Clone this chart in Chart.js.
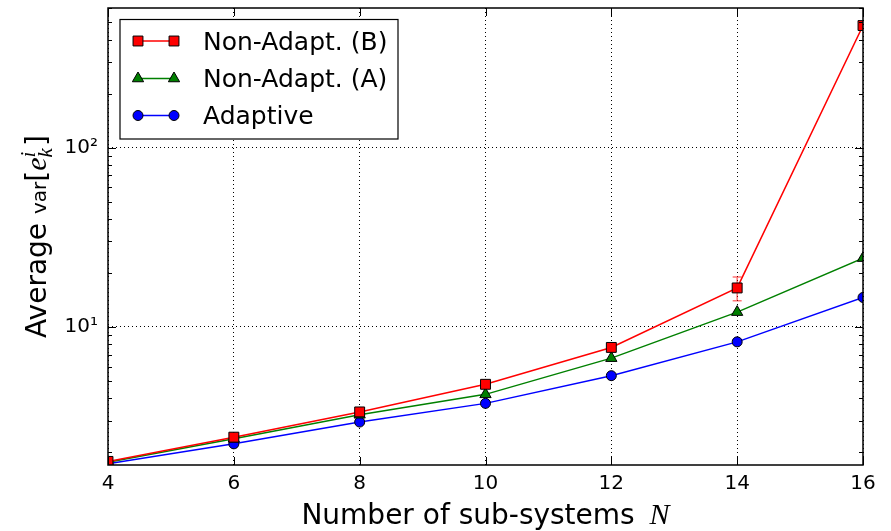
<!DOCTYPE html>
<html>
<head>
<meta charset="utf-8">
<script src="https://cdn.jsdelivr.net/npm/chart.js@4/dist/chart.umd.min.js"></script>
<style>
  html, body { margin: 0; padding: 0; background: #fff; }
  #wrap { width: 891px; height: 531px; }
</style>
</head>
<body>
<div id="wrap"><canvas id="chart" width="891" height="531"></canvas></div>
<script>
// values
const subsystems = [4, 6, 8, 10, 12, 14, 16]
const nonAdaptB = [1.78, 2.43, 3.36, 4.79, 7.69, 16.5, 479]
const nonAdaptBErr = [0, 0, 0, 0, 0, 2.5, 0]
const nonAdaptA = [1.76, 2.38, 3.24, 4.21, 6.70, 12.1, 24.2]
const adaptive = [1.73, 2.23, 2.95, 3.75, 5.35, 8.26, 14.6]
const xTicks = [4, 6, 8, 10, 12, 14, 16]
const yMajorTicks = [10, 100]
const seriesNames = ['Non-Adapt. (B)', 'Non-Adapt. (A)', 'Adaptive']

const sup = { '0': '⁰', '1': '¹', '2': '²', '3': '³' }

function pts(ys) {
  return subsystems.map((x, i) => ({ x: x, y: ys[i] }))
}

const styles = [
  { color: '#ff0000', pointStyle: 'rect', radius: 7 },
  { color: '#008000', pointStyle: 'triangle', radius: 6.5 },
  { color: '#0000ff', pointStyle: 'circle', radius: 5 },
]

const chartData = {
  datasets: [nonAdaptB, nonAdaptA, adaptive].map((ys, i) => ({
    label: seriesNames[i],
    data: pts(ys),
    borderColor: styles[i].color,
    backgroundColor: styles[i].color,
    borderWidth: 1.5,
    tension: 0,
    pointStyle: styles[i].pointStyle,
    pointRadius: styles[i].radius,
    pointBackgroundColor: styles[i].color,
    pointBorderColor: '#000',
    pointBorderWidth: 1,
  })),
}

// error bars, inner ticks, frame, legend and axis titles
const extras = {
  id: 'extras',
  beforeDatasetsDraw(chart) {
    const ctx = chart.ctx
    const xs = chart.scales.x, ys = chart.scales.y
    ctx.save()
    ctx.strokeStyle = 'rgba(255,0,0,0.55)'
    ctx.lineWidth = 1.5
    nonAdaptBErr.forEach((e, i) => {
      if (!e) return
      const px = xs.getPixelForValue(subsystems[i])
      const top = ys.getPixelForValue(nonAdaptB[i] + e)
      const bot = ys.getPixelForValue(nonAdaptB[i] - e)
      ctx.beginPath()
      ctx.moveTo(px, top); ctx.lineTo(px, bot)
      ctx.moveTo(px - 4.5, top); ctx.lineTo(px + 4.5, top)
      ctx.moveTo(px - 4.5, bot); ctx.lineTo(px + 4.5, bot)
      ctx.stroke()
    })
    ctx.restore()
  },
  afterDraw(chart) {
    const ctx = chart.ctx
    const a = chart.chartArea
    const xs = chart.scales.x, ys = chart.scales.y
    ctx.save()
    ctx.strokeStyle = '#000'
    ctx.lineWidth = 1

    // minor + major ticks on the y axis, both sides
    ctx.beginPath()
    for (let d = 1; d <= 100; d *= 10) {
      for (let m = 1; m <= 9; m++) {
        const v = m * d
        if (v < ys.min || v > ys.max) continue
        const py = Math.round(ys.getPixelForValue(v)) + 0.5
        const len = m === 1 ? 8 : 4
        ctx.moveTo(a.left, py); ctx.lineTo(a.left + len, py)
        ctx.moveTo(a.right, py); ctx.lineTo(a.right - len, py)
      }
    }
    xTicks.forEach(t => {
      const px = Math.round(xs.getPixelForValue(t)) + 0.5
      ctx.moveTo(px, a.bottom); ctx.lineTo(px, a.bottom - 8)
      ctx.moveTo(px, a.top); ctx.lineTo(px, a.top + 8)
    })
    ctx.stroke()

    // frame
    ctx.lineWidth = 1.5
    ctx.strokeRect(a.left, a.top, a.right - a.left, a.bottom - a.top)

    // legend
    const lx = 120, ly = 19.5, lw = 278, lh = 119.5
    ctx.fillStyle = '#fff'
    ctx.fillRect(lx, ly, lw, lh)
    ctx.lineWidth = 1.2
    ctx.strokeRect(lx, ly, lw, lh)
    const rows = [41, 78.5, 115.5]
    ctx.font = '25px "DejaVu Sans"'
    ctx.textBaseline = 'alphabetic'
    seriesNames.forEach((name, i) => {
      const y = rows[i]
      ctx.strokeStyle = styles[i].color
      ctx.lineWidth = 1.5
      ctx.beginPath(); ctx.moveTo(138, y); ctx.lineTo(174, y); ctx.stroke()
      ctx.fillStyle = styles[i].color
      ctx.strokeStyle = '#000'
      ctx.lineWidth = 1
      const opts = { pointStyle: styles[i].pointStyle, radius: styles[i].radius, rotation: 0, borderWidth: 1 }
      Chart.helpers.drawPoint(ctx, opts, 138, y)
      Chart.helpers.drawPoint(ctx, opts, 174, y)
      ctx.fillStyle = '#000'
      ctx.fillText(name, 203, y + 8.5)
    })

    // x title
    const big = '28px "DejaVu Sans"'
    const mathBig = 'italic 30px "Liberation Serif"'
    ctx.fillStyle = '#000'
    ctx.font = big
    const w1 = ctx.measureText('Number of sub-systems ').width
    ctx.font = mathBig
    const w2 = ctx.measureText('N').width
    let x0 = (a.left + a.right) / 2 - (w1 + 6 + w2) / 2
    ctx.font = big
    ctx.fillText('Number of sub-systems ', x0, 524)
    ctx.font = mathBig
    ctx.fillText('N', x0 + w1 + 6, 524)

    // y title, rotated
    const parts = [
      { t: 'Average ', f: big, dy: 0 },
      { t: 'var', f: '20px "DejaVu Sans"', dy: 0 },
      { t: '[', f: '28px "DejaVu Sans"', dy: 0 },
      { t: 'e', f: mathBig, dy: 0 },
      { t: 'k', f: 'italic 21px "Liberation Serif"', dy: 6, keep: true },
      { t: 'i', f: 'italic 21px "Liberation Serif"', dy: -11 },
      { t: '\u2009]', f: '28px "DejaVu Sans"', dy: 0 },
    ]
    let total = 0
    parts.forEach(p => { ctx.font = p.f; p.w = ctx.measureText(p.t).width; if (!p.keep) total += p.w })
    ctx.translate(46, (a.top + a.bottom) / 2)
    ctx.rotate(-Math.PI / 2)
    let cx = -total / 2
    parts.forEach(p => {
      ctx.font = p.f
      ctx.fillText(p.t, cx, p.dy)
      if (!p.keep) cx += p.w
    })
    ctx.restore()
  },
}

const config = {
  type: 'line',
  data: chartData,
  options: {
    responsive: false,
    animation: false,
    devicePixelRatio: 1,
    layout: { padding: { left: 0, top: 7, right: 28, bottom: 0 } },
    plugins: { legend: { display: false }, tooltip: { enabled: false } },
    scales: {
      x: {
        type: 'linear',
        min: 4,
        max: 16,
        afterBuildTicks: s => { s.ticks = xTicks.map(v => ({ value: v })) },
        afterFit: s => { s.height = 66; s.paddingLeft = 0; s.paddingRight = 0 },
        ticks: { font: { family: 'DejaVu Sans', size: 20 }, color: '#000', padding: 7 },
        grid: { color: '#000', lineWidth: 1, drawTicks: false },
        border: { display: false, dash: [1, 3] },
      },
      y: {
        type: 'logarithmic',
        min: 1.7,
        max: 600,
        afterBuildTicks: s => { s.ticks = yMajorTicks.map(v => ({ value: v })) },
        afterFit: s => { s.width = 108; s.paddingTop = 0; s.paddingBottom = 0 },
        ticks: {
          font: { family: 'DejaVu Sans', size: 20 },
          color: '#000',
          padding: 10,
          callback: v => '10' + sup[String(Math.round(Math.log10(v)))],
        },
        grid: { color: '#000', lineWidth: 1, drawTicks: false },
        border: { display: false, dash: [1, 3] },
      },
    },
  },
  plugins: [extras],
}

const chart = new Chart(document.getElementById('chart'), config)
</script>
</body>
</html>
